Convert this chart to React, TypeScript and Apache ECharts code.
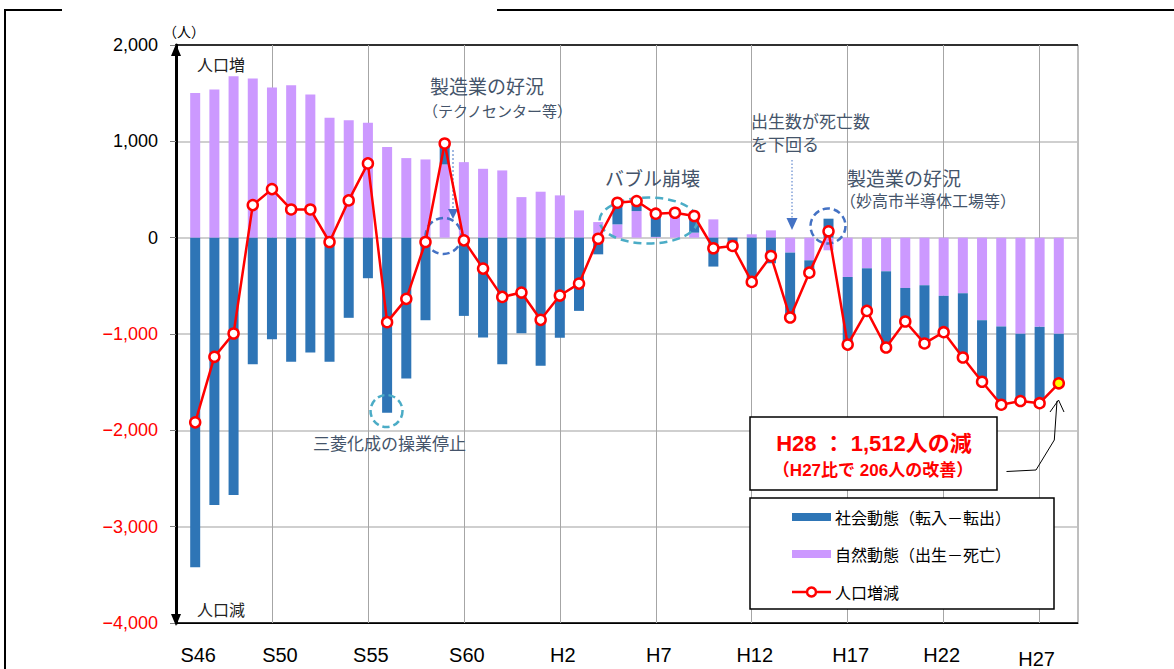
import React, { useEffect, useRef } from "react";
import * as echarts from "echarts";

// 年（S46〜H28）
const years = [
  "S46", "S47", "S48", "S49", "S50", "S51", "S52", "S53", "S54", "S55",
  "S56", "S57", "S58", "S59", "S60", "S61", "S62", "S63",
  "H1", "H2", "H3", "H4", "H5", "H6", "H7", "H8", "H9", "H10",
  "H11", "H12", "H13", "H14", "H15", "H16", "H17", "H18", "H19", "H20",
  "H21", "H22", "H23", "H24", "H25", "H26", "H27", "H28",
];

// 自然動態（出生－死亡）
const natural = [
  1503, 1537, 1675, 1651, 1558, 1582, 1485, 1244, 1219, 1192,
  940, 826, 812, 760, 784, 715, 698, 421,
  477, 439, 283, 162, 138, 276, 8, 259, 52, 190,
  3, 35, 76, -155, -235, -131, -408, -318, -349, -522,
  -494, -604, -577, -857, -922, -998, -926, -998,
];

// 社会動態（転入－転出）
const social = [
  -3420, -2774, -2670, -1313, -1054, -1289, -1192, -1289, -832, -421,
  -1817, -1461, -857, 218, -812, -1036, -1313, -991,
  -1330, -1040, -760, -173, 225, 104, 241, 0, 173, -300,
  -89, -494, -266, -674, -128, 197, -702, -442, -791, -348,
  -604, -377, -667, -639, -812, -698, -792, -514,
];

// 人口増減
const total = [
  -1917, -1237, -995, 338, 504, 293, 293, -45, 387, 771,
  -877, -635, -45, 978, -28, -321, -615, -570,
  -853, -601, -477, -11, 363, 380, 249, 259, 225, -110,
  -86, -459, -190, -829, -363, 66, -1110, -760, -1140, -870,
  -1098, -981, -1244, -1496, -1734, -1696, -1718, -1512,
];

const tickLabels = ["S46", "S50", "S55", "S60", "H2", "H7", "H12", "H17", "H22", "H27"];
const gridTicks = ["S50", "S55", "S60", "H2", "H7", "H12", "H17", "H22", "H27"];
const yTicks = { min: -4000, max: 2000, interval: 1000 };

const seriesNames = ["社会動態（転入－転出）", "自然動態（出生－死亡）", "人口増減"];

const BLUE = "#2E75B6";
const PURPLE = "#CC99FF";
const RED = "#FF0000";
const NOTE = "#44546A";
const ANN_BLUE = "#4472C4";
const TEAL = "#4BACC6";
const CJK = "'Noto Sans CJK JP', 'Liberation Sans', sans-serif";
const LAT = "'Liberation Sans', 'Noto Sans CJK JP', sans-serif";

function fmtNum(v: number): string {
  const a = Math.abs(v).toString().replace(/\B(?=(\d{3})+(?!\d))/g, ",");
  return v < 0 ? "\u2212" + a : a;
}

function text(x: number, y: number, s: string, size: number, color: string, opts: any = {}) {
  return {
    type: "text",
    x,
    y,
    z: 20,
    style: {
      text: s,
      fill: color,
      fontSize: size,
      fontFamily: opts.family || CJK,
      fontWeight: opts.weight || "normal",
      align: opts.align || "left",
      verticalAlign: "middle",
    },
  };
}

export default function App() {
  const ref = useRef<HTMLDivElement>(null);

  useEffect(() => {
    if (!ref.current) return;
    const chart = echarts.init(ref.current, null, { renderer: "svg" });

    const cats = ["", ...years, " "];
    const pad = (arr: any[]) => ["-", ...arr, "-"];
    const lineData = pad(
      total.map((v, i) =>
        i === total.length - 1
          ? { value: v, itemStyle: { color: "#FFFF00", borderColor: RED } }
          : v
      )
    );

    const graphic: any[] = [
      // frame
      { type: "line", z: 1, shape: { x1: 5, y1: 10, x2: 5, y2: 669 }, style: { stroke: "#000", lineWidth: 2 } },
      { type: "line", z: 1, shape: { x1: 4, y1: 10, x2: 62, y2: 10 }, style: { stroke: "#000", lineWidth: 2 } },
      { type: "line", z: 1, shape: { x1: 497, y1: 10, x2: 1174, y2: 10 }, style: { stroke: "#000", lineWidth: 2 } },

      // unit & direction labels
      text(184, 31, "（人）", 14, "#000", { align: "center" }),
      text(221, 64, "人口増", 16, "#222", { align: "center" }),
      text(221, 609, "人口減", 16, "#222", { align: "center" }),

      // 製造業の好況（テクノセンター等）
      text(430, 85, "製造業の好況", 19, NOTE),
      text(423, 110, "（テクノセンター等）", 15, NOTE),
      { type: "line", z: 4, shape: { x1: 453, y1: 150, x2: 453, y2: 210 }, style: { stroke: ANN_BLUE, lineWidth: 1, lineDash: [2, 2] } },
      { type: "polygon", z: 4, shape: { points: [[448, 209], [458, 209], [453, 219]] }, style: { fill: ANN_BLUE } },
      { type: "circle", z: 4, shape: { cx: 443.5, cy: 236, r: 18 }, style: { fill: "none", stroke: ANN_BLUE, lineWidth: 2.5, lineDash: [7, 4] } },

      // 三菱化成の操業停止
      text(313, 442, "三菱化成の操業停止", 17, NOTE),
      { type: "circle", z: 4, shape: { cx: 386.5, cy: 411, r: 16 }, style: { fill: "none", stroke: TEAL, lineWidth: 2.5, lineDash: [7, 4] } },

      // バブル崩壊
      text(605, 177, "バブル崩壊", 19, NOTE),
      { type: "ellipse", z: 4, shape: { cx: 648.5, cy: 220.5, rx: 49, ry: 23 }, style: { fill: "none", stroke: TEAL, lineWidth: 2.5, lineDash: [8, 5] } },

      // 出生数が死亡数を下回る
      text(751, 120, "出生数が死亡数", 17, NOTE),
      text(751, 143, "を下回る", 17, NOTE),
      { type: "line", z: 4, shape: { x1: 792, y1: 160, x2: 792, y2: 219 }, style: { stroke: ANN_BLUE, lineWidth: 1, lineDash: [1.5, 2] } },
      { type: "polygon", z: 4, shape: { points: [[786.5, 218], [797.5, 218], [792, 230]] }, style: { fill: ANN_BLUE } },

      // 製造業の好況（妙高市半導体工場等）
      text(847, 177, "製造業の好況", 19, NOTE),
      text(840, 200, "（妙高市半導体工場等）", 16, NOTE),
      { type: "circle", z: 4, shape: { cx: 828, cy: 226, r: 17.5 }, style: { fill: "none", stroke: ANN_BLUE, lineWidth: 2.5, lineDash: [7, 4] } },

      // H28 annotation box
      { type: "rect", z: 15, shape: { x: 750, y: 417, width: 247, height: 73 }, style: { fill: "#fff", stroke: "#000", lineWidth: 1.5 } },
      text(874, 443, "H28 ： 1,512人の減", 22, RED, { align: "center", weight: "bold", family: LAT }),
      text(873, 470, "（H27比で 206人の改善）", 17, RED, { align: "center", weight: "bold", family: LAT }),
      { type: "polyline", z: 15, shape: { points: [[1006.5, 471.5], [1036, 470], [1054.3, 440], [1057, 401]] }, style: { fill: "none", stroke: "#000", lineWidth: 1 } },
      { type: "polyline", z: 15, shape: { points: [[1050, 412], [1058.5, 400], [1064, 412]] }, style: { fill: "none", stroke: "#000", lineWidth: 1 } },

      // legend box
      { type: "rect", z: 15, shape: { x: 750, y: 498, width: 304, height: 111 }, style: { fill: "#fff", stroke: "#000", lineWidth: 1.5 } },
      { type: "rect", z: 16, shape: { x: 792, y: 513, width: 39, height: 8 }, style: { fill: BLUE } },
      text(835, 517, seriesNames[0], 16, "#000"),
      { type: "rect", z: 16, shape: { x: 792, y: 550, width: 39, height: 8 }, style: { fill: PURPLE } },
      text(835, 554, seriesNames[1], 16, "#000"),
      { type: "line", z: 16, shape: { x1: 792, y1: 592, x2: 831, y2: 592 }, style: { stroke: RED, lineWidth: 2.5 } },
      { type: "circle", z: 17, shape: { cx: 811.5, cy: 592, r: 4.5 }, style: { fill: "#fff", stroke: RED, lineWidth: 2.5 } },
      text(835, 592, seriesNames[2], 16, "#000"),
    ];

    const option: any = {
      animation: false,
      backgroundColor: "#fff",
      textStyle: { fontFamily: LAT },
      grid: {
        left: 176,
        right: 96,
        top: 45,
        bottom: 45,
        show: true,
        borderColor: "#7F7F7F",
        borderWidth: 1,
        backgroundColor: "transparent",
      },
      xAxis: {
        type: "category",
        data: cats,
        boundaryGap: false,
        axisLine: { onZero: false, lineStyle: { color: "#000", width: 1 } },
        axisTick: { show: false },
        splitLine: {
          show: true,
          interval: (_i: number, v: string) => gridTicks.includes(v),
          lineStyle: { color: "#A6A6A6", width: 1 },
        },
        axisLabel: {
          interval: (_i: number, v: string) => tickLabels.includes(v),
          margin: 22,
          formatter: (v: string) => {
            if (v === "S50") return "{b|" + v + "}";
            if (v === "H22") return "{c|" + v + "}";
            if (v === "H27") return "{d|" + v + "}";
            return "{a|" + v + "}";
          },
          rich: {
            a: { fontSize: 20, fontFamily: LAT, color: "#000", padding: [0, 0, 0, 6] },
            b: { fontSize: 20, fontFamily: LAT, color: "#000", padding: [0, 0, 0, 16] },
            c: { fontSize: 20, fontFamily: LAT, color: "#000", padding: [0, 4, 0, 0] },
            d: { fontSize: 20, fontFamily: LAT, color: "#000", padding: [4, 6, 0, 0] },
          },
        },
      },
      yAxis: {
        type: "value",
        min: yTicks.min,
        max: yTicks.max,
        interval: yTicks.interval,
        axisLine: {
          show: true,
          onZero: false,
          lineStyle: { color: "#000", width: 3 },
          symbol: ["triangle", "triangle"],
          symbolSize: [10, 12],
          symbolOffset: [3, -5],
        },
        axisTick: { show: true, length: 6, lineStyle: { color: "#808080", width: 1 } },
        splitLine: {
          show: true,
          lineStyle: {
            color: ["#000000", "#BFBFBF", "#BFBFBF", "#BFBFBF", "#BFBFBF", "#BFBFBF", "#000000"],
            width: 1.5,
          },
        },
        axisLabel: {
          fontSize: 18,
          fontFamily: LAT,
          margin: 18,
          color: (v: any) => (Number(v) < 0 ? "#FF0000" : "#000000"),
          formatter: (v: number) => fmtNum(v),
        },
      },
      series: [
        {
          name: seriesNames[1],
          type: "bar",
          stack: "pop",
          barWidth: 10,
          itemStyle: { color: PURPLE },
          data: pad(natural),
          z: 2,
        },
        {
          name: seriesNames[0],
          type: "bar",
          stack: "pop",
          barWidth: 10,
          itemStyle: { color: BLUE },
          data: pad(social),
          z: 2,
        },
        {
          name: seriesNames[2],
          type: "line",
          data: lineData,
          symbol: "circle",
          symbolSize: 10,
          lineStyle: { color: RED, width: 2.5 },
          itemStyle: { color: "#FFFFFF", borderColor: RED, borderWidth: 2.5 },
          z: 6,
        },
      ],
      graphic,
    };

    chart.setOption(option);
    return () => chart.dispose();
  }, []);

  return (
    <div
      ref={ref}
      style={{ position: "fixed", left: 0, top: 0, width: 1174, height: 669, background: "#fff" }}
    />
  );
}
